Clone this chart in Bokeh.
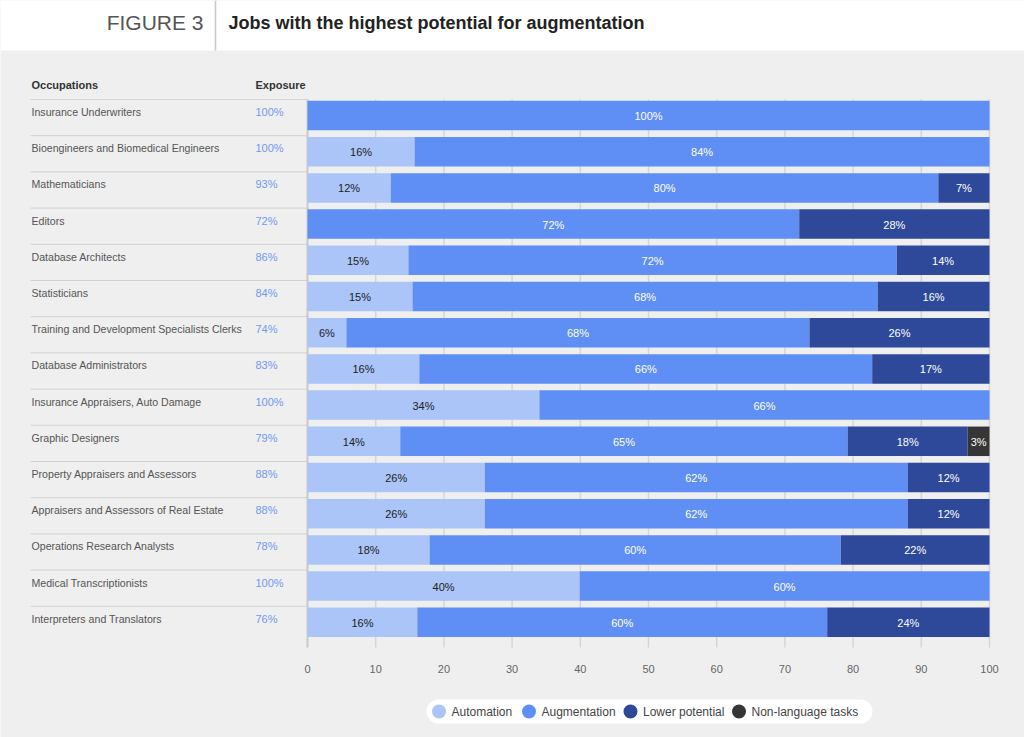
import numpy as np
from bokeh.plotting import figure
from bokeh.models import Range1d, LinearAxis, FixedTicker, ColumnDataSource
from bokeh.core.properties import value
from bokeh.embed import file_html
from bokeh.resources import INLINE

# ---------------- data ----------------
occupations = [
    "Insurance Underwriters",
    "Bioengineers and Biomedical Engineers",
    "Mathematicians",
    "Editors",
    "Database Architects",
    "Statisticians",
    "Training and Development Specialists Clerks",
    "Database Administrators",
    "Insurance Appraisers, Auto Damage",
    "Graphic Designers",
    "Property Appraisers and Assessors",
    "Appraisers and Assessors of Real Estate",
    "Operations Research Analysts",
    "Medical Transcriptionists",
    "Interpreters and Translators",
]
exposure = [100, 100, 93, 72, 86, 84, 74, 83, 100, 79, 88, 88, 78, 100, 76]
automation = [0, 15.7, 12.2, 0, 14.8, 15.4, 5.7, 16.4, 34.0, 13.6, 26.0, 26.0, 17.9, 39.9, 16.1]
augmentation = [100, 84.3, 80.3, 72.1, 71.6, 68.2, 67.9, 66.4, 66.0, 65.6, 62.0, 62.0, 60.3, 60.1, 60.1]
lower_potential = [0, 0, 7.5, 27.9, 13.6, 16.4, 26.4, 17.2, 0, 17.6, 12.0, 12.0, 21.8, 0, 23.8]
non_language = [0, 0, 0, 0, 0, 0, 0, 0, 0, 3.2, 0, 0, 0, 0, 0]

automation_lbl = [None, 16, 12, None, 15, 15, 6, 16, 34, 14, 26, 26, 18, 40, 16]
augmentation_lbl = [100, 84, 80, 72, 72, 68, 68, 66, 66, 65, 62, 62, 60, 60, 60]
lower_lbl = [None, None, 7, 28, 14, 16, 26, 17, None, 18, 12, 12, 22, None, 24]
non_language_lbl = [None, None, None, None, None, None, None, None, None, 3, None, None, None, None, None]

series_names = ["Automation", "Augmentation", "Lower potential", "Non-language tasks"]
x_ticks = [0, 10, 20, 30, 40, 50, 60, 70, 80, 90, 100]

# ---------------- styling / layout ----------------
C_AUTO = "#abc5f8"
C_AUG = "#5f8ff5"
C_LOW = "#2e4999"
C_NON = "#363636"
colors = [C_AUTO, C_AUG, C_LOW, C_NON]
BG = "#efefef"
FONT = "Liberation Sans"

W, H = 1024, 737
OFF = 0                              # where the canvas sits on the page
PX0, PX100 = 307.0, 989.0            # pixel of 0 and 100
PPU = (PX100 - PX0) / 100.0
ROW0, ROWSTEP = 115.0, 36.2


def X(px):
    return (np.asarray(px, dtype=float) - PX0) / PPU


def Y(py):
    return (np.asarray(py, dtype=float) - ROW0) / ROWSTEP


p = figure(width=W, height=H, output_backend="svg", toolbar_location=None,
           x_axis_type=None, y_axis_type=None,
           x_range=Range1d(float(X(OFF)), float(X(OFF + W))),
           y_range=Range1d(float(Y(OFF + H)), float(Y(OFF))),
           min_border=0, min_border_left=0, min_border_right=0,
           min_border_top=0, min_border_bottom=0)
p.outline_line_color = None
p.background_fill_color = BG
p.border_fill_color = BG
p.xgrid.visible = False
p.ygrid.visible = False

n = len(occupations)
rows = list(range(n))

# header band
p.quad(left=[float(X(OFF))], right=[float(X(OFF + W))], top=[float(Y(OFF))], bottom=[float(Y(50))],
       fill_color="white", line_color=None)
p.segment(x0=[float(X(215))], x1=[float(X(215))], y0=[float(Y(OFF))], y1=[float(Y(50))],
          line_color="#c8c8c8", line_width=1.5)
p.text(x=[float(X(203))], y=[float(Y(22))], text=["FIGURE 3"], text_align="right",
       text_baseline="middle", text_font=value(FONT), text_font_size="21px",
       text_color="#555555")
p.text(x=[float(X(228))], y=[float(Y(22))], text=["Jobs with the highest potential for augmentation"],
       text_align="left", text_baseline="middle", text_font=value(FONT),
       text_font_size="18px", text_font_style="bold", text_color="#222222")

# column headers
p.text(x=[float(X(31)), float(X(255))], y=[float(Y(84))] * 2, text=["Occupations", "Exposure"],
       text_align="left", text_baseline="middle", text_font=value(FONT),
       text_font_size="11px", text_font_style="bold", text_color="#333333")

# row separators
sep_y = [r - 16.0 / ROWSTEP for r in rows]
p.segment(x0=[float(X(30))] * n, x1=[0] * n, y0=sep_y, y1=sep_y,
          line_color="#d2d2d2", line_width=1)

# vertical grid lines
g_top = -16.0 / ROWSTEP
g_bot = float(Y(647))
p.segment(x0=x_ticks[1:], x1=x_ticks[1:], y0=[g_top] * (len(x_ticks) - 1),
          y1=[g_bot] * (len(x_ticks) - 1), line_color="#d6d6d6", line_width=1.5)
p.segment(x0=[0], x1=[0], y0=[g_top], y1=[g_bot], line_color="#c9c9c9", line_width=2)

# occupation labels and exposure
p.text(x=[float(X(31))] * n, y=[r - 3.5 / ROWSTEP for r in rows], text=occupations,
       text_align="left", text_baseline="middle", text_font=value(FONT),
       text_font_size="10.6px", text_color="#555555")
p.text(x=[float(X(255))] * n, y=[r - 3.5 / ROWSTEP for r in rows],
       text=["%d%%" % e for e in exposure],
       text_align="left", text_baseline="middle", text_font=value(FONT),
       text_font_size="11px", text_color="#7098f5")

# stacked bars
src = ColumnDataSource(dict(y=rows, a=automation, b=augmentation, c=lower_potential, d=non_language))
p.hbar_stack(["a", "b", "c", "d"], y="y", height=29.5 / ROWSTEP, color=colors, source=src,
             line_color=None)

# segment labels
vals = np.array([automation, augmentation, lower_potential, non_language], dtype=float)
cum = np.cumsum(vals, axis=0)
starts = cum - vals
centers = (starts + cum) / 2.0
lbls = [automation_lbl, augmentation_lbl, lower_lbl, non_language_lbl]
lbl_colors = ["#222222", "white", "white", "white"]
for k in range(4):
    xs, ys, ts = [], [], []
    for i in rows:
        if lbls[k][i] is not None:
            xs.append(float(centers[k, i]))
            ys.append(i + 0.5 / ROWSTEP)
            ts.append("%d%%" % lbls[k][i])
    p.text(x=xs, y=ys, text=ts, text_align="center", text_baseline="middle",
           text_font=value(FONT), text_font_size="11px", text_color=lbl_colors[k])

# x axis
xaxis = LinearAxis(ticker=FixedTicker(ticks=x_ticks), fixed_location=float(Y(648)))
xaxis.axis_line_color = None
xaxis.major_tick_line_color = None
xaxis.minor_tick_line_color = None
xaxis.major_label_text_color = "#666666"
xaxis.major_label_text_font = FONT
xaxis.major_label_text_font_size = "11px"
xaxis.major_label_standoff = 10
p.add_layout(xaxis, "below")

# legend (drawn)
ly = float(Y(711))
try:
    p.quad(left=[float(X(426))], right=[float(X(872))], top=[float(Y(699))], bottom=[float(Y(723))],
           fill_color="white", line_color=None, border_radius=12)
except Exception:
    p.quad(left=[float(X(426))], right=[float(X(872))], top=[float(Y(699))], bottom=[float(Y(723))],
           fill_color="white", line_color=None)
leg_dot_px = [438.5, 528.5, 630.0, 738.5]
leg_txt_px = [451.0, 541.0, 642.5, 751.0]
p.scatter(x=list(X(leg_dot_px)), y=[ly] * 4, marker="circle", size=14, fill_color=colors,
          line_color=None)
p.text(x=list(X(leg_txt_px)), y=[ly] * 4, text=series_names, text_align="left",
       text_baseline="middle", text_font=value(FONT), text_font_size="12px",
       text_color="#444444")

open("out.html", "w").write(file_html(p, INLINE))
